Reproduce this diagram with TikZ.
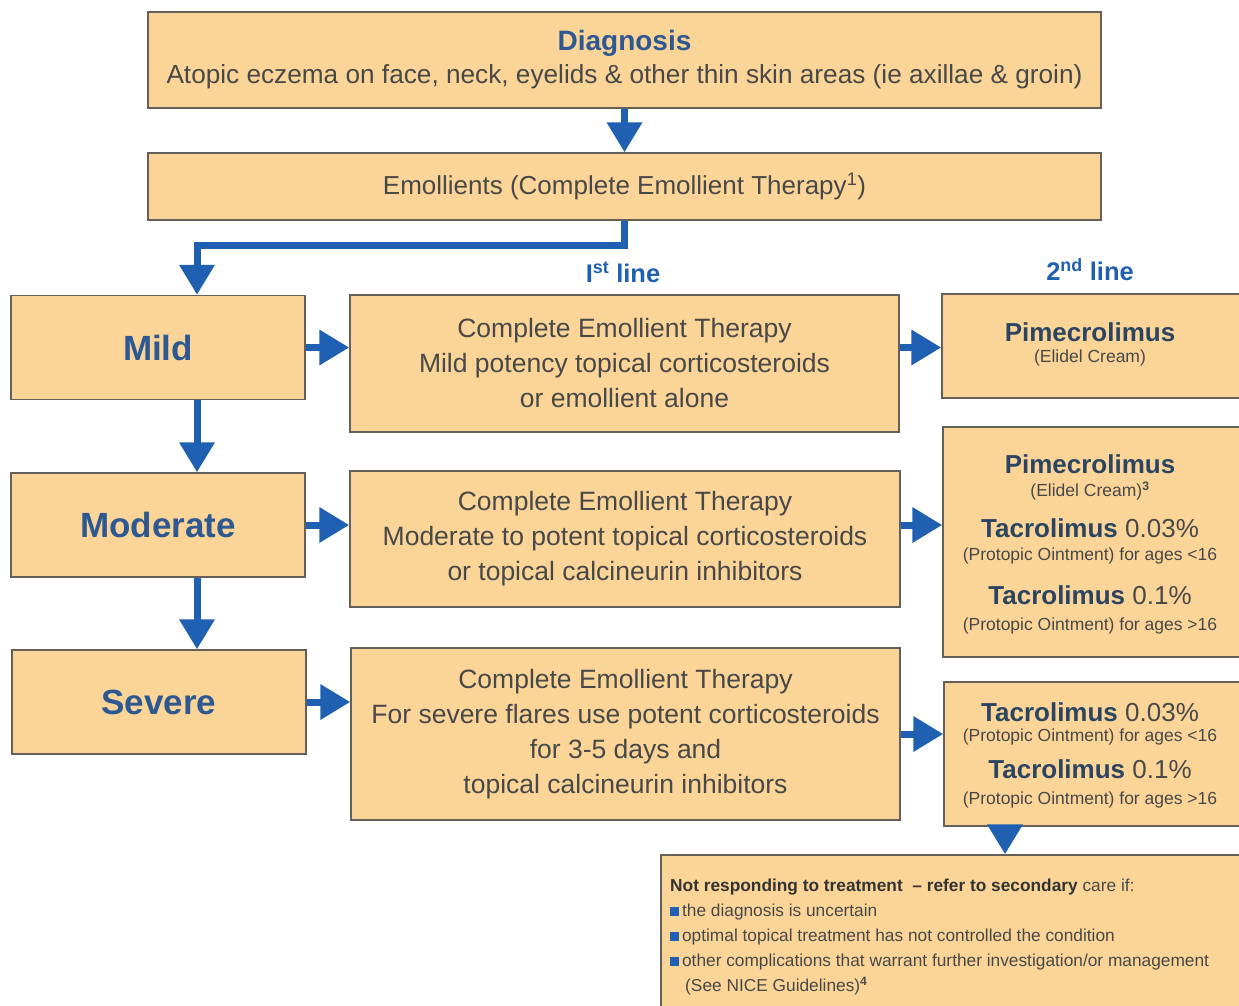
\documentclass[tikz,border=0pt]{standalone}
\usepackage{fontspec}
\setmainfont{Liberation Sans}
\usetikzlibrary{positioning, arrows.meta}

\definecolor{boxfill}{RGB}{251,213,152}
\definecolor{boxline}{RGB}{100,95,88}
\definecolor{arrowblue}{RGB}{31,96,178}
\definecolor{titleblue}{RGB}{45,88,145}
\definecolor{drugblue}{RGB}{42,68,98}
\definecolor{textgrey}{RGB}{72,72,72}

\begin{document}
\begin{tikzpicture}[x=1pt,y=-1pt,
  panel/.style={draw=boxline, line width=1.5pt, fill=boxfill, inner sep=0pt},
  stagebox/.style={panel, minimum width=294pt, minimum height=104pt, text=titleblue, font=\fontsize{35}{40}\selectfont\bfseries},
  therapybox/.style={panel, align=center, text=textgrey, font=\fontsize{26.5}{35}\selectfont},
  drug/.style={inner sep=0pt, text=drugblue, font=\fontsize{26}{30}\selectfont\bfseries},
  brand/.style={inner sep=0pt, text=textgrey, font=\fontsize{17.5}{20}\selectfont},
  flow/.style={draw=arrowblue, line width=7pt, -{Triangle[length=30pt,width=34pt]}}]

  \clip (0,0) rectangle (1239,1005);

  % Top boxes
  \node[therapybox, minimum width=953pt, minimum height=96pt] (diagnosis) at (624.5,60)
    {{\fontsize{28}{33}\selectfont\bfseries\color{titleblue}Diagnosis}\\[-2pt]
     \fontsize{26.2}{33}\selectfont Atopic eczema on face, neck, eyelids \& other thin skin areas (ie axillae \& groin)};
  \node[therapybox, minimum width=953pt, minimum height=67pt, font=\fontsize{26}{33}\selectfont] (emollients) at (624.5,186.5)
    {Emollients (Complete Emollient Therapy\textsuperscript{1})};

  % Severity
  \node[stagebox] (mild) at (158,347.5) {Mild};
  \node[stagebox] (moderate) at (158,525) {Moderate};
  \node[stagebox] (severe) at (159,702) {Severe};

  % Headers
  \node[text=arrowblue, font=\fontsize{25.5}{28}\selectfont\bfseries] (firsthead) at (623,272) {I\textsuperscript{st} line};
  \node[text=arrowblue, font=\fontsize{25.5}{28}\selectfont\bfseries] (secondhead) at (1090,270) {2\textsuperscript{nd} line};

  % 1st line
  \node[therapybox, minimum width=549pt, minimum height=137pt] (firstmild) at (624.5,363.5)
    {Complete Emollient Therapy\\Mild potency topical corticosteroids\\or emollient alone};
  \node[therapybox, minimum width=550pt, minimum height=136pt] (firstmod) at (625,539)
    {Complete Emollient Therapy\\Moderate to potent topical corticosteroids\\or topical calcineurin inhibitors};
  \node[therapybox, minimum width=549pt, minimum height=172pt] (firstsev) at (625.5,734)
    {Complete Emollient Therapy\\For severe flares use potent corticosteroids\\for 3-5 days and\\topical calcineurin inhibitors};

  % 2nd line
  \node[panel, minimum width=303pt, minimum height=104pt] (secondmild) at (1093.5,346) {};
  \node[panel, minimum width=302pt, minimum height=230pt] (secondmod) at (1094,542) {};
  \node[panel, minimum width=301pt, minimum height=144pt] (secondsev) at (1094.5,754) {};

  \node[drug] (pimeA) at (1090,332) {Pimecrolimus};
  \node[brand] (elidelA) at (1090,358) {(Elidel Cream)};

  \node[drug] (pimeB) at (1090,464) {Pimecrolimus};
  \node[brand] (elidelB) at (1090,491) {(Elidel Cream)\textsuperscript{\bfseries 3}};
  \node[drug] (tacroB) at (1090,528) {Tacrolimus \mdseries\color{textgrey}0.03\%};
  \node[brand] (protoB) at (1090,556) {(Protopic Ointment) for ages <16};
  \node[drug] (tacroC) at (1090,595) {Tacrolimus \mdseries\color{textgrey}0.1\%};
  \node[brand] (protoC) at (1090,626) {(Protopic Ointment) for ages >16};

  \node[drug] (tacroD) at (1090,712) {Tacrolimus \mdseries\color{textgrey}0.03\%};
  \node[brand] (protoD) at (1090,737) {(Protopic Ointment) for ages <16};
  \node[drug] (tacroE) at (1090,769) {Tacrolimus \mdseries\color{textgrey}0.1\%};
  \node[brand] (protoE) at (1090,800) {(Protopic Ointment) for ages >16};

  % Referral
  \node[panel, minimum width=584pt, minimum height=157pt] (refer) at (953,933.5) {};
  \node[inner sep=0pt, anchor=north west, align=left, text=textgrey, font=\fontsize{17.3}{25}\selectfont] (referText) at (670,879)
    {{\bfseries\color{black!80}Not responding to treatment \ -- refer to secondary} care if:\\
     \textcolor{arrowblue}{\rule[0.5pt]{9pt}{9pt}}\,the diagnosis is uncertain\\
     \textcolor{arrowblue}{\rule[0.5pt]{9pt}{9pt}}\,optimal topical treatment has not controlled the condition\\
     \textcolor{arrowblue}{\rule[0.5pt]{9pt}{9pt}}\,other complications that warrant further investigation/or management\\
     \hspace*{15pt}(See NICE Guidelines)\textsuperscript{\bfseries 4}};

  % Arrows
  \coordinate (elbow) at (197,245);
  \coordinate (referin) at (1005,0);
  \draw[flow] (diagnosis.south) -- (emollients.north);
  \draw[flow] (emollients.south) |- (elbow) -- (elbow |- mild.north);
  \draw[flow] (mild.south -| elbow) -- (moderate.north -| elbow);
  \draw[flow] (moderate.south -| elbow) -- (severe.north -| elbow);

  \draw[flow] (mild.east) -- (mild.east -| firstmild.west);
  \draw[flow] (moderate.east) -- (moderate.east -| firstmod.west);
  \draw[flow] (severe.east) -- (severe.east -| firstsev.west);

  \draw[flow] (firstmild.east |- mild.east) -- (secondmild.west |- mild.east);
  \draw[flow] (firstmod.east |- moderate.east) -- (secondmod.west |- moderate.east);
  \draw[flow] (firstsev.east) -- (firstsev.east -| secondsev.west);

  \draw[flow] (secondsev.south -| referin) -- (refer.north -| referin);
\end{tikzpicture}
\end{document}
